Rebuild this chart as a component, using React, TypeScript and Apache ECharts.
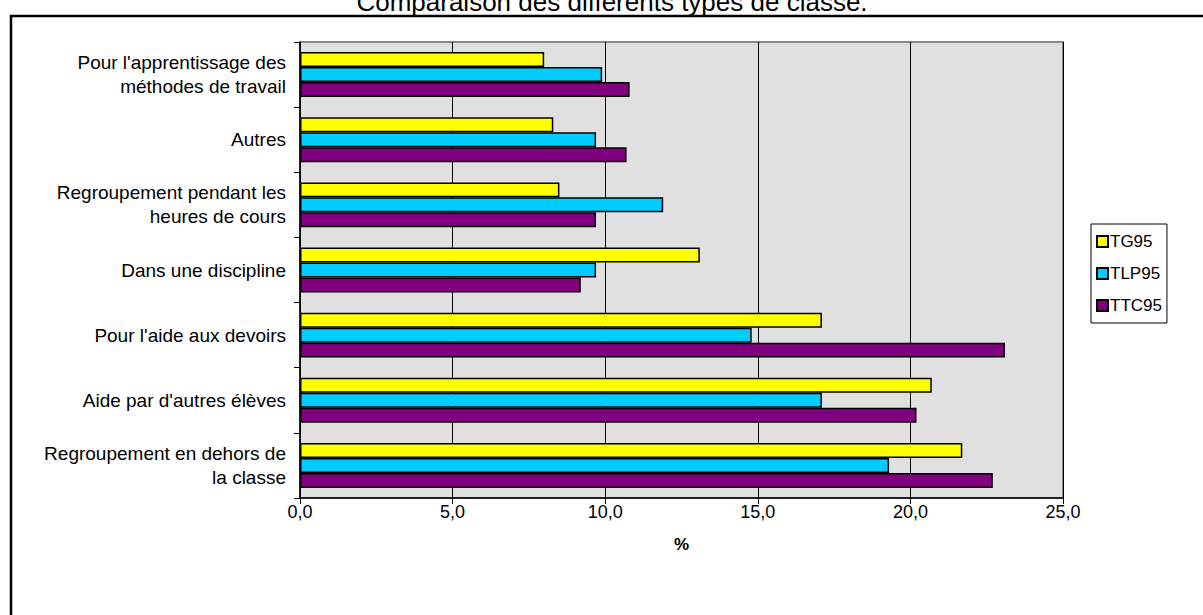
import React, { useEffect, useRef } from "react";
import * as echarts from "echarts";

const TITLE = "Comparaison des différents types de classe.";
const CATEGORIES = [
  "Regroupement en dehors de\nla classe",
  "Aide par d'autres élèves",
  "Pour l'aide aux devoirs",
  "Dans une discipline",
  "Regroupement pendant les\nheures de cours",
  "Autres",
  "Pour l'apprentissage des\nméthodes de travail",
];
const SERIES_NAMES = ["TG95", "TLP95", "TTC95"];
const TG95 = [21.7, 20.7, 17.1, 13.1, 8.5, 8.3, 8.0];
const TLP95 = [19.3, 17.1, 14.8, 9.7, 11.9, 9.7, 9.9];
const TTC95 = [22.7, 20.2, 23.1, 9.2, 9.7, 10.7, 10.8];
const COLORS = ["#FFFF00", "#00CCFF", "#800080"];
const AXIS_NAME = "%";

const FONT = "Arial, 'Liberation Sans', sans-serif";

export default function App() {
  const ref = useRef<HTMLDivElement>(null);
  useEffect(() => {
    document.body.style.margin = "0";
    const chart = echarts.init(ref.current!, undefined, { renderer: "svg" });
    const values = [TG95, TLP95, TTC95];
    chart.setOption({
      animation: false,
      textStyle: { fontFamily: FONT, color: "#000" },
      graphic: [
        {
          type: "rect",
          shape: { x: 11, y: 16, width: 1400, height: 800 },
          style: { fill: "none", stroke: "#000", lineWidth: 2.5 },
          silent: true,
        },
        {
          type: "text",
          x: 612,
          y: 2,
          style: {
            text: TITLE,
            font: `26px ${FONT}`,
            fill: "#000",
            textAlign: "center",
            textVerticalAlign: "middle",
          },
        },
      ],
      legend: {
        orient: "vertical",
        left: 1091,
        top: 224,
        data: SERIES_NAMES,
        borderColor: "#000",
        borderWidth: 1,
        borderRadius: 0,
        padding: [9, 5, 9, 5],
        itemGap: 15,
        itemWidth: 11,
        itemHeight: 11,
        icon: "rect",
        textStyle: { fontSize: 17, fontFamily: FONT, color: "#000", padding: [0, 0, 0, -3] },
      },
      grid: { left: 300, top: 42, width: 763, height: 456, containLabel: false,
        show: true, backgroundColor: "#E0E0E0", borderColor: "#888", borderWidth: 2 },
      xAxis: {
        type: "value",
        min: 0,
        max: 25,
        interval: 5,
        name: AXIS_NAME,
        nameLocation: "middle",
        nameGap: 38,
        nameTextStyle: { fontWeight: "bold", fontSize: 17, fontFamily: FONT, color: "#000" },
        axisLine: { show: true, lineStyle: { color: "#000", width: 1.5 } },
        axisTick: { show: true, length: 6, lineStyle: { color: "#000" } },
        axisLabel: {
          fontSize: 18,
          color: "#000",
          fontFamily: FONT,
          margin: 5,
          formatter: (v: number) => v.toFixed(1).replace(".", ","),
        },
        splitLine: { show: true, lineStyle: { color: "#000", width: 1 } },
      },
      yAxis: {
        type: "category",
        data: CATEGORIES,
        axisLine: { show: true, lineStyle: { color: "#000", width: 1.5 } },
        axisTick: { show: true, length: 6, lineStyle: { color: "#000" } },
        axisLabel: {
          fontSize: 19,
          color: "#000",
          fontFamily: FONT,
          margin: 14,
          lineHeight: 24,
          align: "right",
        },
        splitLine: { show: false },
      },
      series: SERIES_NAMES.map((name, i) => ({
        name,
        type: "bar",
        data: values[i],
        barGap: "0%",
        barCategoryGap: "31%",
        itemStyle: { color: COLORS[i], borderColor: "#000", borderWidth: 1.5 },
      })),
    });
    return () => chart.dispose();
  }, []);
  return <div ref={ref} style={{ width: 1203, height: 615 }} />;
}
